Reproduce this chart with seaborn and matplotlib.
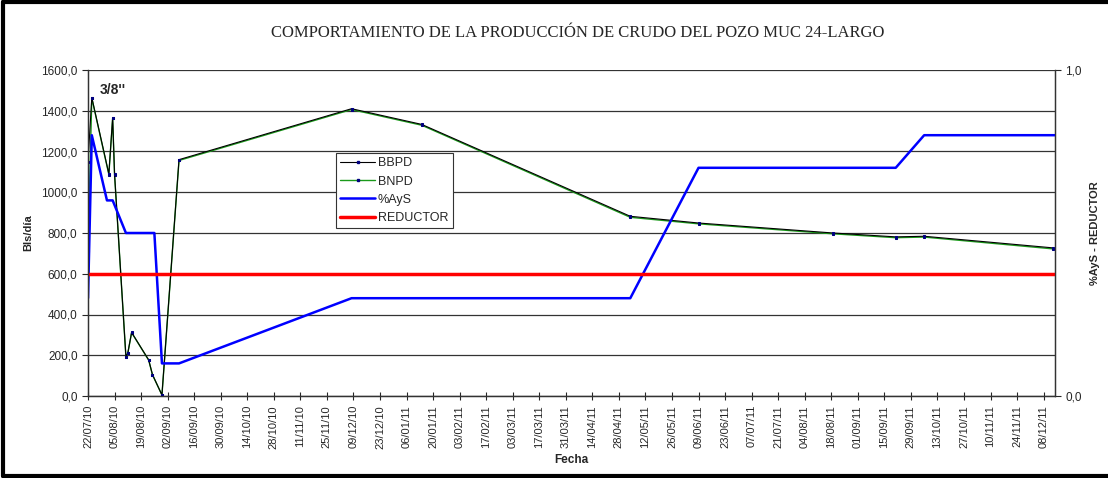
import numpy as np
import pandas as pd
import matplotlib
matplotlib.use("Agg")
import matplotlib.pyplot as plt
import matplotlib.dates as mdates
from matplotlib.ticker import FuncFormatter
from matplotlib.lines import Line2D
import seaborn as sns

# production data (Bls/dia)
prod_dates = ["22/07/10", "24/07/10", "02/08/10", "04/08/10", "05/08/10", "11/08/10",
              "12/08/10", "14/08/10", "23/08/10", "25/08/10", "30/08/10", "08/09/10",
              "08/12/10", "14/01/11", "04/05/11", "09/06/11", "19/08/11", "21/09/11",
              "06/10/11", "13/12/11"]
bbpd = [1150, 1465, 1090, 1365, 1090, 193, 211, 312, 177, 105, 5, 1160,
        1410, 1333, 882, 849, 800, 781, 784, 727]
bnpd = [710, 1462, 1087, 1362, 1087, 192, 210, 311, 176, 104, 5, 1156,
        1406, 1329, 877, 845, 796, 777, 780, 722]

# water & sediment fraction (right axis)
ays_dates = ["22/07/10", "24/07/10", "01/08/10", "04/08/10", "11/08/10", "26/08/10",
             "30/08/10", "08/09/10", "08/12/10", "04/05/11", "09/06/11", "21/09/11",
             "06/10/11", "14/12/11"]
ays = [0.3, 0.8, 0.6, 0.6, 0.5, 0.5, 0.1, 0.1, 0.3, 0.3, 0.7, 0.7, 0.8, 0.8]

# choke 3/8" = 0.375
red_dates = ["22/07/10", "14/12/11"]
reductor = [0.375, 0.375]

prod = pd.DataFrame({"fecha": pd.to_datetime(prod_dates, dayfirst=True),
                     "BBPD": bbpd, "BNPD": bnpd})
agua = pd.DataFrame({"fecha": pd.to_datetime(ays_dates, dayfirst=True), "AyS": ays})
red = pd.DataFrame({"fecha": pd.to_datetime(red_dates, dayfirst=True), "R": reductor})

sns.set_style("white")
plt.rcParams["font.family"] = ["Liberation Sans", "DejaVu Sans"]

fig = plt.figure(figsize=(11.08, 4.78), dpi=100)
ax = fig.add_axes([88 / 1108, 1 - 396 / 478, (1055 - 88) / 1108, (396 - 70) / 478])
ax2 = ax.twinx()

mk = dict(marker="s", markersize=2, markerfacecolor="#000080", markeredgecolor="#000080")
sns.lineplot(data=prod, x="fecha", y="BNPD", ax=ax, color="#1a9a1a", lw=1.0,
             estimator=None, sort=False, label="BNPD", zorder=3, **mk)
sns.lineplot(data=prod, x="fecha", y="BBPD", ax=ax, color="black", lw=0.8,
             estimator=None, sort=False, label="BBPD", zorder=4, **mk)
sns.lineplot(data=agua, x="fecha", y="AyS", ax=ax2, color="#0000ff", lw=1.8,
             estimator=None, sort=False, label="%AyS")
sns.lineplot(data=red, x="fecha", y="R", ax=ax2, color="#ff0000", lw=2.5,
             estimator=None, sort=False, label="REDUCTOR")
ax.get_legend().remove()
ax2.get_legend().remove()

start = pd.Timestamp("2010-07-22")
end = pd.Timestamp("2011-12-14")
ax.set_xlim(start, end)
ax.set_ylim(0, 1600)
ax2.set_ylim(0, 1)

ticks = pd.date_range(start, "2011-12-08", freq="14D")
ax.set_xticks(ticks)
ax.xaxis.set_major_formatter(mdates.DateFormatter("%d/%m/%y"))
ax.tick_params(axis="x", rotation=90, labelsize=8, direction="inout", length=6, width=0.8, bottom=True)
ax.set_yticks(np.arange(0, 1601, 200))
ax.yaxis.set_major_formatter(FuncFormatter(lambda v, p: f"{v:.1f}".replace(".", ",")))
ax.tick_params(axis="y", labelsize=8.5, direction="out", length=4, width=0.8, left=True)
ax2.set_yticks([0, 1])
ax2.yaxis.set_major_formatter(FuncFormatter(lambda v, p: f"{v:.1f}".replace(".", ",")))
ax2.tick_params(axis="y", labelsize=8.5, direction="out", length=4, width=0.8, right=True)

ax.yaxis.grid(True, color="#333333", lw=0.9)
ax.set_axisbelow(True)
for a in (ax, ax2):
    a.spines["top"].set_visible(False)
    for s in ("left", "right", "bottom"):
        a.spines[s].set_color("#333333")
        a.spines[s].set_linewidth(0.9)

ax.set_xlabel("Fecha", fontsize=8.5, fontweight="bold", labelpad=4)
ax.set_ylabel("Bls/día", fontsize=8, fontweight="bold", labelpad=6)
ax2.set_ylabel("%AyS - REDUCTOR", fontsize=8, fontweight="bold", labelpad=6)

fig.text(578 / 1108, 1 - 33 / 478, "COMPORTAMIENTO DE LA PRODUCCIÓN DE CRUDO DEL POZO MUC 24-LARGO",
         ha="center", va="center", fontsize=12, family="Liberation Serif")
ax.text(pd.Timestamp("2010-07-28"), 1500, "3/8''", fontsize=10, fontweight="bold",
        ha="left", va="center")

handles = [Line2D([], [], color="black", lw=0.8, **mk),
           Line2D([], [], color="#1a9a1a", lw=1.0, **mk),
           Line2D([], [], color="#0000ff", lw=1.8),
           Line2D([], [], color="#ff0000", lw=2.5)]
leg = fig.legend(handles, ["BBPD", "BNPD", "%AyS", "REDUCTOR"], loc="upper left",
                 bbox_to_anchor=(336 / 1108, 1 - 153 / 478), fontsize=9, frameon=True,
                 fancybox=False, edgecolor="#333333", framealpha=1, handlelength=2.8,
                 handletextpad=0.2, labelspacing=0.5, borderpad=0.35, borderaxespad=0)
leg.get_frame().set_linewidth(0.8)

# outer frame
for xs, ys in [([0.003, 0.003], [0.004, 0.996]), ([0.003, 1.0], [0.996, 0.996]),
               ([0.003, 1.0], [0.004, 0.004])]:
    fig.add_artist(Line2D(xs, ys, transform=fig.transFigure, color="black", lw=3))

fig.savefig("out.png", dpi=100)
